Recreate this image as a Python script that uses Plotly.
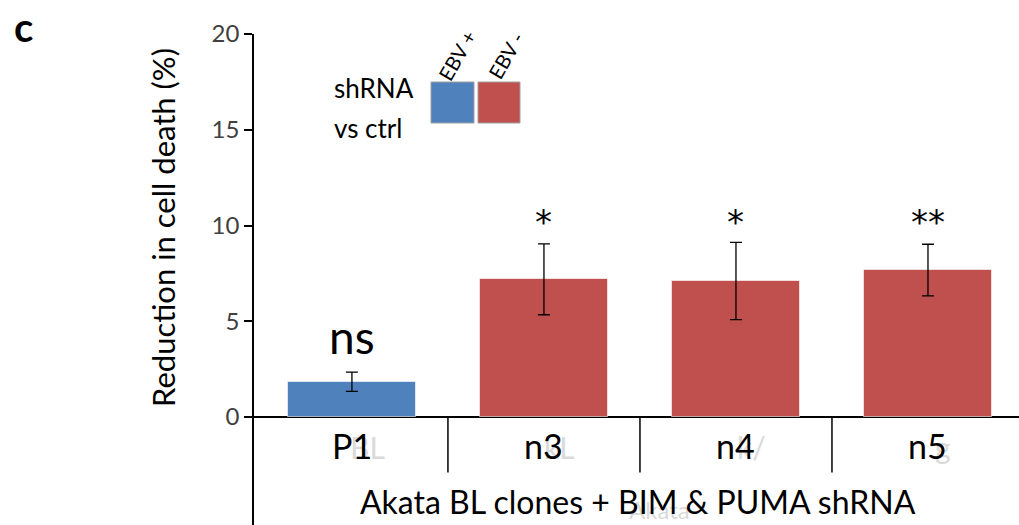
import plotly.graph_objects as go

# Data
clones = ["P1", "n3", "n4", "n5"]
reduction = [1.84, 7.19, 7.10, 7.67]
err = [0.50, 1.85, 2.02, 1.35]
ebv_status = ["EBV +", "EBV -", "EBV -", "EBV -"]
significance = ["ns", "*", "*", "**"]
ghost_labels = ["BL", "kL", "k/", "g"]
y_ticks = [0, 5, 10, 15, 20]

BLUE = "#4F81BD"
RED = "#C0504D"
FONT = "Lato, Calibri, Carlito, sans-serif"
colors = [BLUE if s == "EBV +" else RED for s in ebv_status]
xpos = list(range(len(clones)))

W, H = 1019, 525
ML, MR, MT, MB = 254, 0, 34, 0


def px(x):
    """Figure pixel column -> paper x."""
    return (x - ML) / (W - ML - MR)


def py(y):
    """Figure pixel row -> paper y."""
    return 1 - (y - MT) / (H - MT - MB)


def note(**kw):
    kw.setdefault("showarrow", False)
    kw.setdefault("xanchor", "center")
    kw.setdefault("yanchor", "middle")
    return kw


fig = go.Figure()
fig.add_trace(go.Bar(
    x=xpos, y=reduction, width=0.667,
    marker=dict(color=colors, line=dict(color="rgba(255,255,255,0.6)", width=1)),
    error_y=dict(type="data", array=err, visible=True, color="black",
                 thickness=1.3, width=6),
    showlegend=False, hoverinfo="skip",
))

ann = []
# significance marks above bars
for i, (s, v, e) in enumerate(zip(significance, reduction, err)):
    if s == "ns":
        ann.append(note(x=i, y=v + e + 1.85, text=s,
                        font=dict(size=46, color="black", family=FONT)))
    else:
        ann.append(note(x=i, y=10.2, text=s,
                        font=dict(size=34, color="black", family="DejaVu Sans")))

# faint ghost labels behind category names
for i, g in enumerate(ghost_labels):
    ann.append(note(x=i + 0.08, y=-1.55, text=g,
                    font=dict(size=30, color="#dadada", family=FONT)))
ann.append(note(x=1.6, y=-4.85, text="Akata",
                font=dict(size=24, color="#dadada", family=FONT)))

# category labels under the baseline
for i, c in enumerate(clones):
    ann.append(note(x=i, y=-1.5, text=c,
                    font=dict(size=34, color="black", family=FONT)))
ann.append(note(x=1.49, y=-4.4, text="Akata BL clones + BIM & PUMA shRNA",
                font=dict(size=32, color="black", family=FONT)))

# panel letter and y title
ann.append(note(x=px(23), y=py(27), xref="paper", yref="paper",
                text="<b>c</b>", font=dict(size=40, color="black", family=FONT)))
ann.append(note(x=px(163), y=py(228), xref="paper", yref="paper",
                text="Reduction in cell death (%)", textangle=-90,
                font=dict(size=31, color="black", family=FONT)))

# legend block
ann.append(note(x=px(332), y=py(88), xref="paper", yref="paper",
                xanchor="left", text="shRNA",
                font=dict(size=26, color="black", family=FONT)))
ann.append(note(x=px(332), y=py(128), xref="paper", yref="paper",
                xanchor="left", text="vs ctrl",
                font=dict(size=26, color="black", family=FONT)))
ann.append(note(x=px(457), y=py(55), xref="paper", yref="paper",
                text="EBV +", textangle=-60,
                font=dict(size=20, color="black", family=FONT)))
ann.append(note(x=px(506), y=py(55), xref="paper", yref="paper",
                text="EBV -", textangle=-60,
                font=dict(size=20, color="black", family=FONT)))

shapes = [
    dict(type="rect", xref="paper", yref="paper",
         x0=px(431), x1=px(474), y0=py(123), y1=py(82),
         fillcolor=BLUE, line=dict(color="#a0a0a0", width=1)),
    dict(type="rect", xref="paper", yref="paper",
         x0=px(478), x1=px(520), y0=py(123), y1=py(82),
         fillcolor=RED, line=dict(color="#a0a0a0", width=1)),
]
# separators between categories below the baseline
for k in range(len(clones) - 1):
    shapes.append(dict(type="line", xref="x", yref="y", x0=k + 0.5, x1=k + 0.5,
                       y0=0, y1=-2.9, line=dict(color="black", width=1.5)))

fig.update_layout(
    width=W, height=H,
    margin=dict(l=ML, r=MR, t=MT, b=MB),
    paper_bgcolor="white", plot_bgcolor="white",
    bargap=0,
    annotations=ann, shapes=shapes,
    xaxis=dict(range=[-0.51, 3.474], showticklabels=False, showgrid=False,
               zeroline=False, showline=False, ticks=""),
    yaxis=dict(range=[-5.64, 20], tickvals=y_ticks, showgrid=False,
               showline=True, linecolor="black", linewidth=1.5,
               ticks="outside", ticklen=8, tickcolor="black", tickwidth=1.5,
               tickfont=dict(size=24, color="#404040", family=FONT),
               zeroline=True, zerolinecolor="black", zerolinewidth=1.5),
)

fig.write_html("out.html")
